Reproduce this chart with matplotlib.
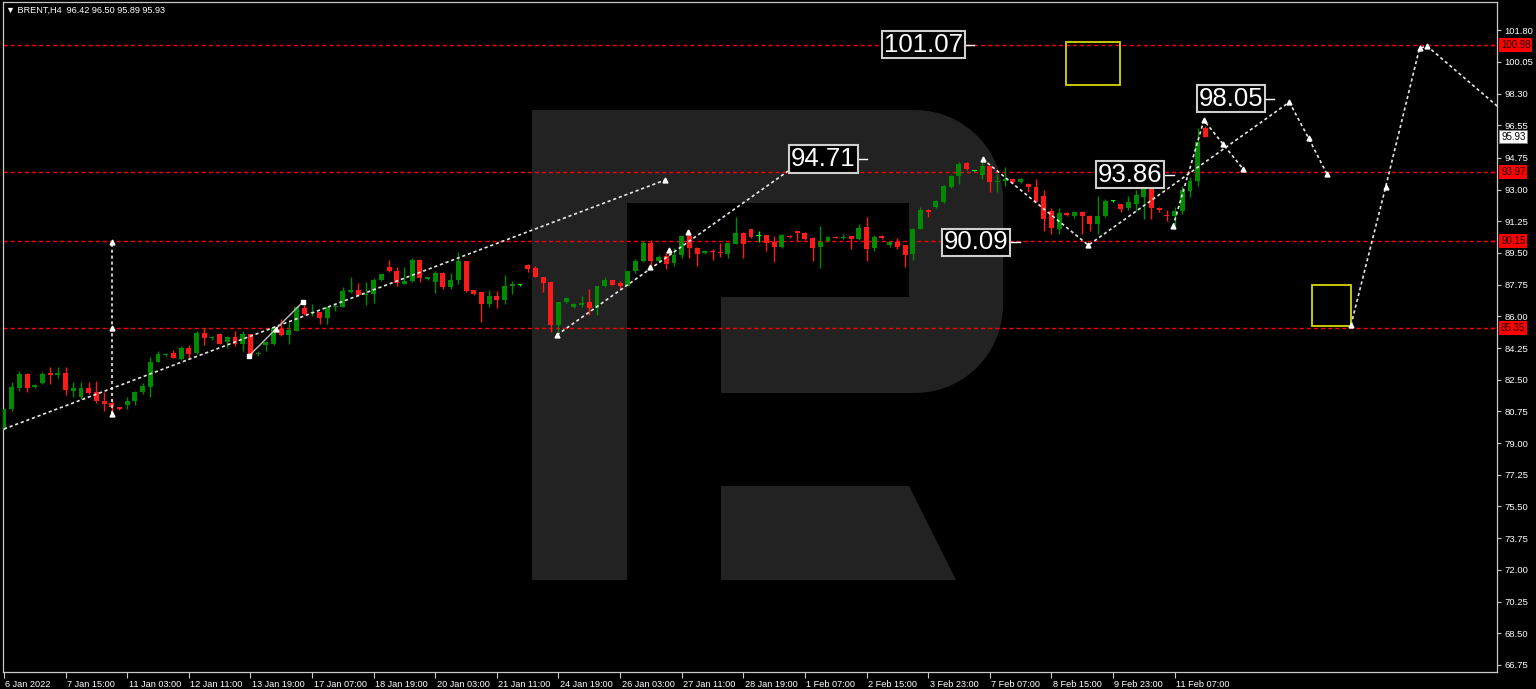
import numpy as np
import matplotlib
matplotlib.use("Agg")
import matplotlib.pyplot as plt
import matplotlib.transforms as mtransforms
from matplotlib.patches import Polygon, Rectangle

W, H = 1536, 689

# H4 candles, index 0 = 6 Jan 2022
opens = [
    79.8, 80.9, 82.05, 82.8, 82.1, 82.3, 82.85, 82.75, 82.87, 81.9,
    81.55, 82.05, 81.8, 81.3, 81.2, 81.0, 81.1, 81.3, 81.85, 82.1,
    83.5, 83.85, 84.0, 83.65, 84.25, 83.95, 85.1, 84.8, 85.05, 84.6,
    84.85, 84.5, 85.0, 83.9, 84.4, 84.45, 85.3, 84.95, 85.2, 86.45,
    86.2, 86.25, 85.9, 86.5, 86.5, 87.35, 87.45, 87.2, 87.25, 88.0,
    88.7, 88.5, 87.8, 87.95, 89.1, 88.05, 87.9, 88.4, 87.6, 88.0,
    89.05, 87.45, 87.35, 86.7, 87.1, 86.9, 87.7, 87.75, 88.85, 88.65,
    88.2, 87.9, 85.5, 86.8, 86.5, 86.65, 86.8, 86.45, 87.65, 88.0,
    87.85, 87.7, 88.5, 89.05, 90.05, 89.05, 89.35, 88.95, 89.4, 90.45,
    89.8, 89.5, 89.6, 89.55, 89.45, 90.0, 90.6, 90.8, 90.45, 90.5,
    90.1, 89.85, 90.45, 90.7, 90.6, 90.3, 89.82, 90.15, 90.4, 90.35,
    90.45, 90.27, 90.95, 89.75, 90.45, 89.93, 90.1, 89.93, 89.45, 90.85,
    91.85, 92.05, 92.3, 93.15, 93.75, 94.45, 94.05, 93.8, 94.3, 93.4,
    93.5, 93.6, 93.4, 93.3, 93.15, 92.65, 91.8, 90.8, 91.7, 91.55,
    91.75, 91.55, 91.1, 91.55, 92.38, 92.2, 92.0, 92.2, 92.6, 93.55,
    92.0, 91.6, 91.55, 91.8, 92.95, 93.45, 96.42,
]
highs = [
    80.95, 82.4, 83.0, 82.85, 82.25, 82.9, 83.2, 83.2, 83.2, 82.4,
    82.4, 82.4, 82.45, 81.8, 81.45, 81.0, 81.55, 81.9, 82.3, 83.75,
    84.1, 83.95, 84.15, 84.35, 84.4, 85.2, 85.35, 84.9, 85.1, 84.9,
    85.2, 85.2, 85.05, 84.1, 84.6, 85.45, 85.85, 85.7, 86.55, 86.75,
    86.7, 86.25, 86.55, 86.7, 87.6, 88.2, 87.85, 87.9, 88.1, 88.35,
    89.1, 88.75, 88.7, 89.2, 89.15, 88.2, 88.5, 88.45, 88.4, 89.55,
    89.05, 87.45, 87.35, 87.45, 87.4, 88.3, 87.95, 87.8, 88.9, 88.8,
    88.2, 87.9, 86.8, 87.05, 86.75, 87.15, 87.5, 87.7, 88.15, 88.0,
    87.95, 88.5, 89.15, 90.15, 90.2, 89.4, 89.55, 89.8, 90.45, 90.75,
    89.85, 89.65, 89.7, 90.05, 90.05, 91.5, 90.65, 90.8, 90.7, 90.5,
    90.45, 90.55, 90.5, 90.7, 90.65, 90.4, 91.0, 90.45, 90.45, 90.55,
    90.45, 91.1, 91.5, 90.5, 90.5, 90.15, 90.32, 89.95, 90.9, 92.05,
    91.95, 92.45, 93.25, 93.8, 94.5, 94.5, 94.1, 94.8, 94.3, 93.85,
    94.25, 93.65, 93.65, 93.35, 93.6, 93.0, 92.0, 92.0, 91.75, 91.8,
    91.8, 91.6, 92.65, 92.5, 92.45, 92.2, 92.65, 93.0, 93.95, 93.6,
    92.05, 91.9, 92.05, 93.2, 93.7, 96.4, 96.5,
]
lows = [
    79.7, 80.8, 81.9, 81.8, 82.05, 82.25, 82.25, 82.6, 81.65, 81.55,
    81.45, 81.7, 81.2, 80.77, 80.6, 80.85, 80.9, 81.1, 81.7, 81.55,
    83.5, 83.8, 83.7, 83.6, 83.65, 83.9, 84.4, 84.7, 84.45, 84.25,
    84.35, 84.1, 83.8, 83.8, 84.1, 84.4, 84.9, 84.45, 85.2, 86.1,
    86.0, 85.6, 85.6, 86.3, 86.5, 87.3, 87.15, 86.6, 86.75, 87.95,
    88.45, 87.7, 87.8, 87.9, 87.9, 88.0, 87.3, 87.5, 87.5, 87.8,
    87.35, 87.2, 85.7, 86.5, 86.45, 86.7, 87.25, 87.7, 88.45, 88.15,
    87.35, 85.15, 85.15, 86.75, 86.45, 86.5, 86.05, 86.1, 87.6, 87.75,
    87.5, 87.65, 88.4, 89.0, 88.75, 89.0, 88.6, 88.8, 89.25, 89.25,
    88.8, 89.45, 89.1, 89.3, 89.25, 90.0, 89.25, 90.35, 90.1, 89.6,
    89.0, 89.8, 90.35, 90.15, 90.2, 89.05, 88.65, 90.1, 90.3, 90.25,
    89.7, 90.2, 89.05, 89.6, 90.25, 89.85, 89.7, 88.75, 89.1, 90.8,
    91.5, 92.0, 92.25, 93.1, 93.3, 94.1, 94.0, 93.6, 92.85, 92.85,
    93.2, 93.35, 93.35, 92.85, 92.3, 90.7, 90.55, 90.55, 91.55, 91.45,
    90.55, 90.7, 90.55, 91.5, 92.3, 91.75, 91.9, 91.8, 91.4, 91.4,
    91.75, 91.25, 91.0, 91.65, 92.6, 93.2, 95.89,
]
closes = [
    80.9, 82.1, 82.8, 82.05, 82.2, 82.8, 82.75, 82.85, 81.93, 82.05,
    82.05, 81.75, 81.3, 81.15, 81.0, 80.9, 81.3, 81.85, 82.15, 83.5,
    83.9, 83.9, 83.7, 84.25, 83.9, 85.1, 84.8, 84.85, 84.5, 84.85,
    84.5, 85.0, 83.85, 84.0, 84.6, 85.35, 84.95, 85.25, 86.5, 86.15,
    86.25, 85.9, 86.5, 86.55, 87.4, 87.45, 87.2, 87.25, 88.0, 88.35,
    88.5, 87.85, 87.95, 89.1, 88.1, 88.15, 88.4, 87.6, 88.0, 89.05,
    87.4, 87.25, 86.7, 87.1, 86.9, 87.7, 87.75, 87.75, 88.6, 88.15,
    87.85, 85.5, 86.8, 87.0, 86.7, 86.7, 86.45, 87.65, 88.0, 87.75,
    87.7, 88.5, 89.05, 90.05, 89.05, 89.3, 88.9, 89.4, 90.45, 89.8,
    89.45, 89.6, 89.55, 89.5, 90.05, 90.6, 90.0, 90.4, 90.45, 90.05,
    89.85, 90.5, 90.4, 90.6, 90.25, 89.8, 90.1, 90.4, 90.35, 90.4,
    90.25, 90.9, 89.7, 90.4, 90.3, 90.1, 89.82, 89.4, 90.85, 91.85,
    91.75, 92.35, 93.2, 93.75, 94.4, 94.15, 94.05, 94.3, 93.4, 93.5,
    93.55, 93.4, 93.6, 93.15, 92.3, 91.4, 90.9, 91.7, 91.6, 91.75,
    91.55, 91.1, 91.55, 92.35, 92.38, 91.95, 92.3, 92.7, 93.45, 92.0,
    91.85, 91.55, 91.8, 93.0, 93.45, 95.65, 95.93,
]

x_ticks = list(range(0, 153, 8))
x_labels = [
    "6 Jan 2022", "7 Jan 15:00", "11 Jan 03:00", "12 Jan 11:00", "13 Jan 19:00",
    "17 Jan 07:00", "18 Jan 19:00", "20 Jan 03:00", "21 Jan 11:00", "24 Jan 19:00",
    "26 Jan 03:00", "27 Jan 11:00", "28 Jan 19:00", "1 Feb 07:00", "2 Feb 15:00",
    "3 Feb 23:00", "7 Feb 07:00", "8 Feb 15:00", "9 Feb 23:00", "11 Feb 07:00",
]
y_ticks = [66.75, 68.50, 70.25, 72.00, 73.75, 75.50, 77.25, 79.00, 80.75, 82.50,
           84.25, 86.00, 87.75, 89.50, 91.25, 93.00, 94.75, 96.55, 98.30, 100.05, 101.80]

levels = [100.98, 93.97, 90.15, 85.35]
last_price = 95.93

# analysis drawings (bar index, price)
wave_lines = [
    ([0.0, 85.8], [79.78, 93.52]),
    ([14.0, 14.0], [80.6, 90.1]),
    ([71.8, 101.8], [84.97, 94.02]),
    ([127.1, 140.8, 166.9], [94.68, 89.93, 97.83]),
    ([151.8, 155.8, 158.3, 160.9], [90.98, 96.83, 95.51, 94.13]),
    ([166.9, 169.4, 171.8], [97.83, 95.84, 93.85]),
    ([174.9, 179.4, 183.8, 184.8, 193.9], [85.52, 93.14, 100.81, 100.92, 97.61]),
]
solid_line = ([31.8, 38.8], [83.81, 86.79])
arrow_x = [85.8, 14.0, 14.0, 14.0, 35.3, 71.8, 83.9, 86.4, 88.8, 127.1, 140.8,
           151.8, 155.8, 158.3, 160.9, 166.9, 169.4, 171.8, 174.9, 179.4, 183.8, 184.8]
arrow_y = [93.52, 90.1, 85.35, 80.6, 85.3, 84.97, 88.72, 89.66, 90.65, 94.68, 89.93,
           90.98, 96.83, 95.51, 94.13, 97.83, 95.84, 93.85, 85.52, 93.14, 100.81, 100.92]

label_text = ["101.07", "94.71", "90.09", "93.86", "98.05"]
label_x = [119.4, 106.4, 126.2, 146.2, 159.3]
label_y = [101.01, 94.69, 90.08, 93.83, 98.03]
label_stub_end = [126.0, 112.1, 131.9, 151.9, 164.9]

target_boxes = [(137.9, 98.78, 144.9, 101.15), (169.9, 85.47, 174.9, 87.73)]

plt.rcParams["lines.scale_dashes"] = False

fig = plt.figure(figsize=(W / 100, H / 100), dpi=100, facecolor="black")
ax = fig.add_axes([2.5 / W, 17 / H, (1497.3 - 2.5) / W, (687 - 17) / H])
ax.set_facecolor("black")

# watermark logo, figure pixel outline
def to_fig(pts):
    return [(px / W, 1 - py / H) for px, py in pts]

t1 = np.radians(np.linspace(90, 0, 20))
t2 = np.radians(np.linspace(0, -90, 20))
body = [(532, 110)]
body += [(915 + 88 * np.cos(t), 198 - 88 * np.sin(t)) for t in t1]
body += [(915 + 88 * np.cos(t), 305 - 88 * np.sin(t)) for t in t2]
body += [(721, 393), (721, 297), (909, 297), (909, 203), (627, 203), (627, 580), (532, 580)]
leg = [(721, 486), (909, 486), (956, 580), (721, 580)]
for shape in (body, leg):
    ax.add_patch(Polygon(to_fig(shape), closed=True, transform=fig.transFigure,
                         fc="#222222", ec="none", zorder=0))

# level lines
for v in levels:
    ax.axhline(v, color="#ff0000", lw=1, dashes=(2.9, 2.2), zorder=2)

# candles
idx = np.arange(len(closes))
o = np.array(opens)
c = np.array(closes)
cols = np.where(c > o, "#008a00", np.where(c < o, "#ff1a1a", "#00ff00"))
ax.vlines(idx, lows, highs, colors=cols, lw=1, zorder=3)
ax.bar(idx, np.maximum(np.abs(c - o), 0.06), bottom=np.minimum(o, c), width=0.64,
       color=cols, lw=0, zorder=4)

# drawings
for xs, ys in wave_lines:
    ax.plot(xs, ys, color="#e6e6e6", lw=1.2, dashes=(2.3, 2.0), zorder=5)
ax.plot(solid_line[0], solid_line[1], color="#bdbdbd", lw=1, zorder=5, marker="s",
        ms=3.5, mfc="white", mec="white")
ax.plot(arrow_x, arrow_y, ls="none", marker="^", ms=3.5, color="white", zorder=6)

for x0, y0, x1, y1 in target_boxes:
    ax.add_patch(Rectangle((x0, y0), x1 - x0, y1 - y0, fill=False, ec="#d8d800",
                           lw=1.3, zorder=5))

for s, lx, ly, le in zip(label_text, label_x, label_y, label_stub_end):
    ax.plot([lx, le], [ly, ly], color="white", lw=1, zorder=7)
    ax.text(lx, ly, s, fontsize=18.5, family="Liberation Sans", color="white",
            ha="center", va="center", zorder=8,
            bbox=dict(boxstyle="square,pad=0.07", fc="black", ec="#cfcfcf", lw=1.5))

ax.set_xlim(-0.19, 193.9)
ax.set_ylim(66.36, 103.36)

# axes styling
for sp in ax.spines.values():
    sp.set_color("#c8c8c8")
    sp.set_linewidth(0.9)
ax.set_yticks(y_ticks, [f"{v:.2f}" for v in y_ticks])
ax.yaxis.tick_right()
ax.tick_params(axis="y", direction="out", length=3, width=0.8, color="#c8c8c8",
               labelcolor="white", labelsize=6.8, pad=2)
ax.set_xticks(x_ticks, x_labels)
ax.tick_params(axis="x", direction="out", length=4, width=0.8, color="#c8c8c8",
               labelcolor="white", labelsize=6.6, pad=1.5)
shift = mtransforms.ScaledTranslation(1.5 / 100, 0, fig.dpi_scale_trans)
for lab in ax.get_xticklabels():
    lab.set_horizontalalignment("left")
    lab.set_transform(lab.get_transform() + shift)
for lab in ax.get_xticklabels() + ax.get_yticklabels():
    lab.set_family("Liberation Sans")

# price tags on the right scale
blend = mtransforms.blended_transform_factory(ax.transAxes, ax.transData)
for v in levels:
    ax.plot([0.9955, 0.998], [v, v], color="#ff0000", lw=1, transform=blend, zorder=9)
    ax.text(1.0025, v, f"{v:.2f}", transform=blend, ha="left", va="center",
            fontsize=7, family="Liberation Sans", color="#1a0000", clip_on=False,
            zorder=10, bbox=dict(boxstyle="square,pad=0.18", fc="#ff0000", ec="none"))
ax.text(1.0025, last_price, f"{last_price:.2f}", transform=blend, ha="left",
        va="center", fontsize=7, family="Liberation Sans", color="black",
        clip_on=False, zorder=10,
        bbox=dict(boxstyle="square,pad=0.18", fc="white", ec="#808080", lw=0.6))

fig.text(6 / W, 1 - 10 / H, "\u25bc BRENT,H4  96.42 96.50 95.89 95.93", color="white",
         fontsize=6.6, family=["Liberation Sans", "DejaVu Sans"], va="center", ha="left")

fig.savefig("out.png", dpi=100, facecolor="black")
